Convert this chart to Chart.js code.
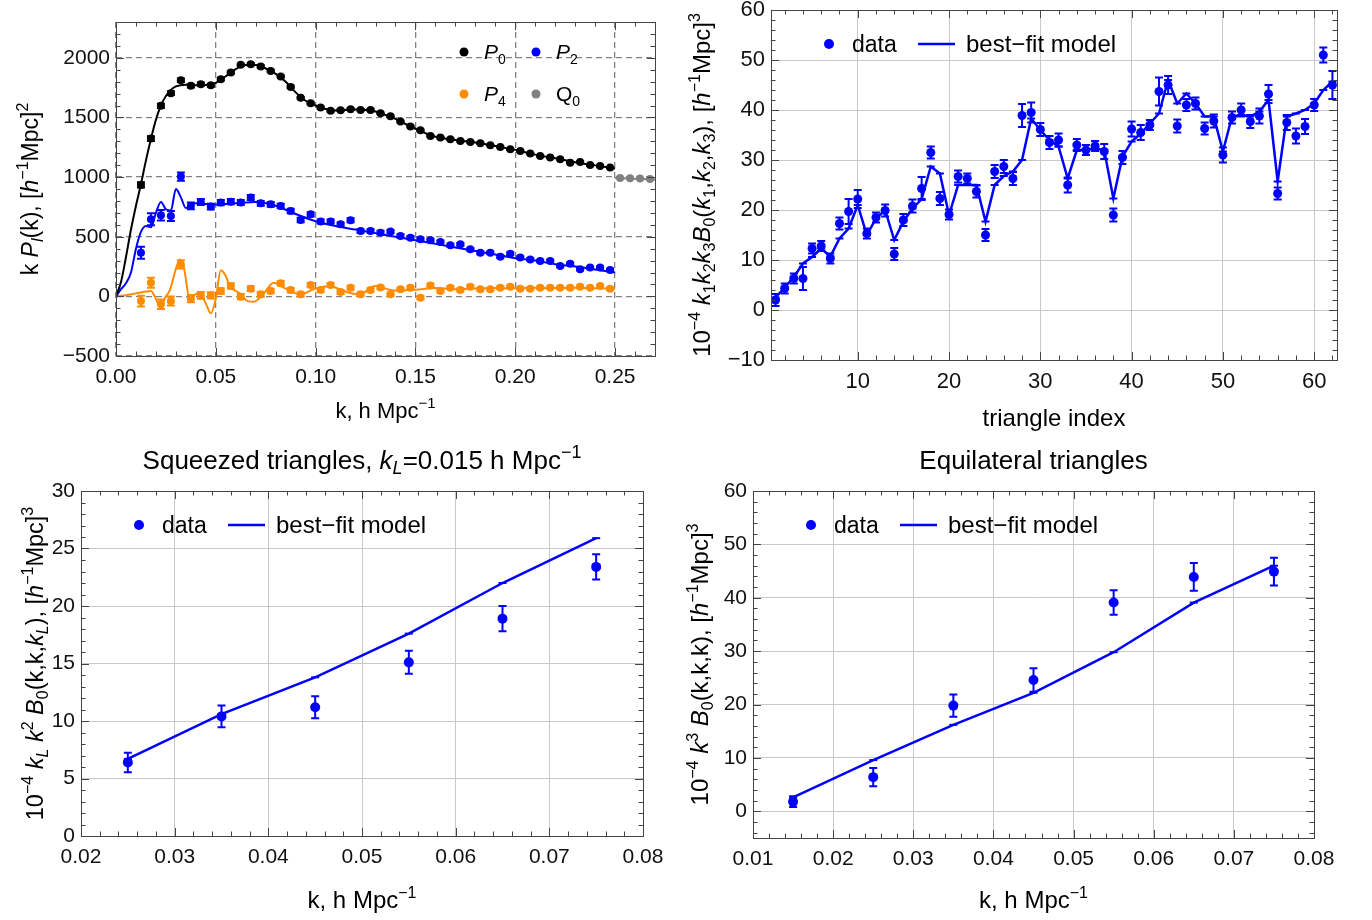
<!DOCTYPE html>
<html>
<head>
<meta charset="utf-8">
<script src="https://cdn.jsdelivr.net/npm/chart.js@4.4.1/dist/chart.umd.min.js"></script>
<style>
  body { margin: 0; background: #fff; width: 1372px; height: 920px; overflow: hidden; position: relative; }
  .panel { position: absolute; }
</style>
</head>
<body>
<div class="panel" style="left:0;top:0;width:686px;height:440px"><canvas id="cPk"></canvas></div>
<div class="panel" style="left:686px;top:0;width:686px;height:440px"><canvas id="cTri"></canvas></div>
<div class="panel" style="left:0;top:440px;width:686px;height:480px"><canvas id="cSq"></canvas></div>
<div class="panel" style="left:686px;top:440px;width:686px;height:480px"><canvas id="cEq"></canvas></div>
<script>
// ---- power spectrum multipoles (top left) ----
const kData = [0.0125,0.0175,0.0225,0.0275,0.0325,0.0375,0.0425,0.0475,0.0525,0.0575,0.0625,0.0675,0.0725,0.0775,0.0825,0.0875,0.0925,0.0975,0.1025,0.1075,0.1125,0.1175,0.1225,0.1275,0.1325,0.1375,0.1425,0.1475,0.1525,0.1575,0.1625,0.1675,0.1725,0.1775,0.1825,0.1875,0.1925,0.1975,0.2025,0.2075,0.2125,0.2175,0.2225,0.2275,0.2325,0.2375,0.2425,0.2475];
const p0Data = [934,1323,1597,1703,1812,1765,1779,1770,1821,1877,1941,1946,1927,1890,1843,1756,1664,1619,1583,1555,1561,1569,1563,1563,1535,1510,1466,1424,1393,1345,1331,1317,1303,1295,1284,1267,1253,1233,1219,1197,1177,1164,1150,1121,1127,1102,1093,1080];
const p0Err = [22,20,18,16,15,14,13,12,12,11,10,10,10,9,9,9,8,8,8,8,7,7,7,7,7,6,6,6,6,6,6,6,6,5,5,5,5,5,5,5,5,5,5,5,5,5,5,5];
const p2Data = [366,646,680,674,1004,758,791,753,786,794,786,828,780,772,758,716,640,688,627,627,604,638,548,548,534,543,506,492,478,470,456,428,436,394,366,366,333,358,325,310,296,296,254,274,227,241,241,221];
const p2Err = [50,50,45,42,35,28,26,24,22,22,21,21,20,20,19,19,18,18,17,17,16,16,15,15,15,14,14,14,13,13,13,12,12,12,12,11,11,11,11,10,10,10,10,10,10,10,10,10];
const p4Data = [-39,115,-67,-39,268,-19,8,8,45,87,-3,64,17,45,109,53,17,95,53,95,36,73,17,53,75,17,59,73,-11,92,45,73,53,81,59,59,73,81,64,64,73,73,73,73,81,73,87,64];
const p4Err = [45,42,40,38,35,30,28,26,24,22,22,20,20,19,19,18,18,17,17,16,16,15,15,15,14,14,14,13,13,13,12,12,12,12,11,11,11,11,10,10,10,10,10,10,10,10,10,10];
const q0K = [0.2525,0.2575,0.2625,0.2675];
const q0Data = [992,990,987,983];

const kModelP0 = [0,0.0025,0.005,0.0075,0.01,0.0125,0.015,0.0175,0.02,0.0225,0.025,0.0275,0.03,0.035,0.04,0.045,0.05,0.055,0.06,0.065,0.07,0.075,0.08,0.085,0.09,0.095,0.10,0.105,0.11,0.115,0.12,0.125,0.13,0.135,0.14,0.145,0.15,0.155,0.16,0.17,0.18,0.19,0.20,0.21,0.22,0.23,0.24,0.25];
const p0Model = [0,120,330,560,760,940,1140,1320,1480,1600,1680,1730,1760,1775,1770,1772,1790,1845,1905,1940,1940,1910,1865,1800,1710,1640,1600,1570,1558,1563,1566,1563,1550,1520,1488,1445,1405,1368,1338,1310,1290,1260,1228,1188,1157,1125,1098,1072];
const kModelP2 = [0,0.0025,0.005,0.0075,0.01,0.0125,0.015,0.0175,0.02,0.0225,0.025,0.0275,0.03,0.0325,0.035,0.04,0.05,0.06,0.07,0.08,0.09,0.10,0.11,0.12,0.13,0.14,0.15,0.16,0.17,0.18,0.19,0.20,0.21,0.22,0.23,0.24,0.25];
const p2Model = [0,60,110,200,400,540,590,580,700,790,730,720,900,830,740,780,770,780,790,760,690,630,590,560,530,500,470,440,410,380,350,320,300,270,250,225,200];
const kModelP4 = [0,0.005,0.01,0.015,0.0175,0.02,0.022,0.025,0.027,0.03,0.032,0.034,0.037,0.04,0.042,0.045,0.0475,0.05,0.0525,0.055,0.057,0.062,0.066,0.069,0.074,0.079,0.084,0.0925,0.099,0.107,0.114,0.122,0.13,0.139,0.15,0.16,0.17,0.18,0.19,0.20,0.21,0.22,0.23,0.24,0.25];
const p4Model = [0,10,25,40,45,-20,-90,0,53,230,308,240,-25,20,25,-60,-142,-20,218,170,87,25,-40,-45,25,115,73,17,59,87,45,17,87,50,55,70,60,65,70,68,72,70,72,68,65];
const q0ModelK = [0.25,0.27];
const q0Model = [993,980];
const pkXTicks = [0,0.05,0.10,0.15,0.20,0.25];
const pkYTicks = [-500,0,500,1000,1500,2000];

// ---- all triangles (top right) ----
const triIndex = [1,2,3,4,5,6,7,8,9,10,11,12,13,14,15,16,17,18,19,20,21,22,23,24,25,26,27,28,29,30,31,32,33,34,35,36,37,38,39,40,41,42,43,44,45,46,47,48,49,50,51,52,53,54,55,56,57,58,59,60,61,62];
const triData = [2.0,4.3,6.3,6.3,12.3,12.8,10.3,17.3,19.7,22.2,15.3,18.5,19.9,11.2,18.0,20.8,24.3,31.5,22.3,19.1,26.7,26.3,23.7,15.0,27.7,28.7,26.3,38.9,39.5,36.1,33.5,34.0,25.0,33.0,32.0,32.8,31.7,19.0,30.5,36.2,35.5,37.0,43.7,45.0,36.8,41.0,41.3,36.3,37.8,31.0,38.5,40.0,37.7,38.8,43.2,23.3,37.5,34.8,36.7,41.0,51.0,45.0];
const triErr = [1.2,1.0,1.0,2.3,1.0,1.0,1.0,1.2,2.5,1.8,1.0,1.0,1.2,1.2,1.2,1.3,2.3,1.2,1.3,1.0,1.2,1.0,1.2,1.2,1.3,1.3,1.3,2.3,2.0,1.3,1.3,1.3,1.5,1.2,1.0,1.0,1.5,1.3,1.3,1.5,1.5,1.0,2.8,1.8,1.3,1.2,1.2,1.2,1.3,1.5,1.2,1.3,1.3,1.5,1.8,1.2,1.5,1.5,1.5,1.2,1.5,2.8];
const triModel = [2.5,4.5,6.6,9.3,10.6,12.3,10.7,14.3,16.3,21.0,15.0,18.3,20.0,14.0,17.7,20.3,22.2,28.7,27.3,19.0,25.0,25.0,25.0,17.7,25.0,26.8,27.7,30.0,38.3,36.0,34.0,32.7,26.3,32.0,32.0,32.3,32.0,22.3,30.7,33.7,35.3,37.3,39.3,46.0,41.3,43.3,41.3,38.7,38.7,31.7,38.7,39.0,38.7,39.7,42.0,25.7,38.7,39.3,40.0,41.3,44.0,45.7];
const triXTicks = [10,20,30,40,50,60];
const triYTicks = [-10,0,10,20,30,40,50,60];

// ---- squeezed triangles (bottom left) ----
const kSq = [0.025,0.035,0.045,0.055,0.065,0.075];
const sqData = [6.4,10.4,11.2,15.1,18.9,23.4];
const sqErr = [0.85,0.95,0.95,1.0,1.1,1.1];
const sqModel = [6.7,10.6,13.8,17.6,22.0,25.9];
const sqXTicks = [0.02,0.03,0.04,0.05,0.06,0.07,0.08];
const sqYTicks = [0,5,10,15,20,25,30];

// ---- equilateral triangles (bottom right) ----
const kEq = [0.015,0.025,0.035,0.045,0.055,0.065,0.075];
const eqData = [1.8,6.4,19.8,24.6,39.1,43.9,44.9];
const eqErr = [1.0,1.7,2.1,2.2,2.3,2.6,2.6];
const eqModel = [2.6,9.6,16.2,22.2,29.8,39.1,46.0];
const eqXTicks = [0.01,0.02,0.03,0.04,0.05,0.06,0.07,0.08];
const eqYTicks = [0,10,20,30,40,50,60];

const FONT = '"Liberation Sans", Arial, sans-serif';
const BLUE = 'rgb(0,0,255)';
const ORANGE = 'rgb(255,140,0)';
const GRAY = 'rgb(128,128,128)';
Chart.defaults.font.family = FONT;

const pts = (xs, ys) => xs.map((x, i) => ({ x: x, y: ys[i] }));
const minus = v => String(v).replace('-', '\u2212');

// draws mixed italic / sub / superscript text, centred on (x, y)
function drawRich(ctx, parts, x, y, size, opts = {}) {
  ctx.save();
  ctx.translate(x, y);
  if (opts.rotate) ctx.rotate(-Math.PI / 2);
  const fontOf = st => (st.includes('i') ? 'italic ' : '') +
    ((st.includes('u') || st.includes('d')) ? Math.round(size * 0.68) : size) + 'px ' + FONT;
  let total = 0;
  const widths = parts.map(([t, st]) => {
    ctx.font = fontOf(st);
    const w = ctx.measureText(t).width;
    total += w;
    return w;
  });
  let cx = opts.left ? 0 : -total / 2;
  ctx.textAlign = 'left';
  ctx.textBaseline = 'alphabetic';
  ctx.fillStyle = '#000';
  parts.forEach(([t, st], i) => {
    ctx.font = fontOf(st);
    let dy = size * 0.35;
    if (st.includes('u')) dy -= size * 0.42;
    if (st.includes('d')) dy += size * 0.2;
    ctx.fillText(t, cx, dy);
    cx += widths[i];
  });
  ctx.restore();
}

function frameTicks(ctx, sc, minor, major, a, horizontal) {
  const start = Math.ceil(sc.min / minor - 1e-9);
  const end = Math.floor(sc.max / minor + 1e-9);
  ctx.beginPath();
  for (let n = start; n <= end; n++) {
    const v = n * minor;
    const r = v / major;
    const len = Math.abs(r - Math.round(r)) < 1e-6 ? 8 : 4.5;
    const p = Math.round(sc.getPixelForValue(v)) + 0.5;
    if (horizontal) {
      ctx.moveTo(p, a.bottom); ctx.lineTo(p, a.bottom - len);
      ctx.moveTo(p, a.top); ctx.lineTo(p, a.top + len);
    } else {
      ctx.moveTo(a.left, p); ctx.lineTo(a.left + len, p);
      ctx.moveTo(a.right, p); ctx.lineTo(a.right - len, p);
    }
  }
  ctx.stroke();
}

function legendBlock(ctx, a) {
  const y = a.top + 34, x0 = a.left + 58;
  ctx.fillStyle = BLUE;
  ctx.beginPath(); ctx.arc(x0, y, 5, 0, Math.PI * 2); ctx.fill();
  drawRich(ctx, [['data', '']], x0 + 23, y, 23, { left: true });
  ctx.strokeStyle = BLUE; ctx.lineWidth = 2.5;
  ctx.beginPath(); ctx.moveTo(x0 + 89, y); ctx.lineTo(x0 + 126, y); ctx.stroke();
  drawRich(ctx, [['best\u2212fit model', '']], x0 + 137, y, 24, { left: true });
}

function makeChart(id, cfg) {
  const deco = {
    id: 'deco_' + id,
    afterDatasetsDraw(chart) {
      const ctx = chart.ctx, xs = chart.scales.x, ys = chart.scales.y;
      ctx.save();
      cfg.errs.forEach(e => {
        ctx.strokeStyle = e.color; ctx.lineWidth = 2;
        ctx.beginPath();
        e.xs.forEach((xv, i) => {
          const px = xs.getPixelForValue(xv);
          const y1 = ys.getPixelForValue(e.ys[i] + e.err[i]);
          const y2 = ys.getPixelForValue(e.ys[i] - e.err[i]);
          ctx.moveTo(px, y1); ctx.lineTo(px, y2);
          ctx.moveTo(px - 4, y1); ctx.lineTo(px + 4, y1);
          ctx.moveTo(px - 4, y2); ctx.lineTo(px + 4, y2);
        });
        ctx.stroke();
      });
      ctx.restore();
    },
    afterDraw(chart) {
      const ctx = chart.ctx, a = chart.chartArea;
      ctx.save();
      ctx.strokeStyle = '#444'; ctx.lineWidth = 1;
      frameTicks(ctx, chart.scales.x, cfg.minorX, cfg.majorX, a, true);
      frameTicks(ctx, chart.scales.y, cfg.minorY, cfg.majorY, a, false);
      ctx.strokeRect(Math.round(a.left) + 0.5, Math.round(a.top) + 0.5,
        Math.round(a.right - a.left), Math.round(a.bottom - a.top));
      cfg.texts(ctx, a, chart);
      ctx.restore();
    }
  };
  return new Chart(document.getElementById(id), {
    type: 'scatter',
    data: { datasets: cfg.datasets },
    options: {
      responsive: true,
      maintainAspectRatio: false,
      animation: false,
      layout: { padding: { top: cfg.pad[0], right: cfg.pad[1], left: 0, bottom: 0 } },
      plugins: { legend: { display: false }, tooltip: { enabled: false } },
      scales: {
        x: {
          type: 'linear', min: cfg.x[0], max: cfg.x[1],
          afterBuildTicks: s => { s.ticks = cfg.xticks.map(v => ({ value: v })); },
          afterFit: s => { s.height = cfg.xh; s.paddingLeft = 0; s.paddingRight = 0; },
          ticks: { autoSkip: false, maxRotation: 0,
            padding: 9, color: '#111', font: { size: cfg.font }, callback: cfg.xfmt },
          grid: { color: cfg.gridColor, lineWidth: cfg.gridWidth, drawTicks: false },
          border: { display: false, dash: cfg.dash }
        },
        y: {
          type: 'linear', min: cfg.y[0], max: cfg.y[1],
          afterBuildTicks: s => { s.ticks = cfg.yticks.map(v => ({ value: v })); },
          afterFit: s => { s.width = cfg.yw; s.paddingTop = 0; s.paddingBottom = 0; },
          ticks: { autoSkip: false,
            padding: 6, color: '#111', font: { size: cfg.font }, callback: minus },
          grid: { color: cfg.gridColor, lineWidth: cfg.gridWidth, drawTicks: false },
          border: { display: false, dash: cfg.dash }
        }
      }
    },
    plugins: [deco]
  });
}

const dots = (data, color, r) => ({ data: data, backgroundColor: color, borderWidth: 0, pointRadius: r, pointHoverRadius: r });
const curve = (data, color) => ({ data: data, showLine: true, borderColor: color, borderWidth: 2, pointRadius: 0, cubicInterpolationMode: 'monotone' });
const model = (data) => ({ data: data, showLine: true, borderColor: BLUE, borderWidth: 2.5, tension: 0,
  pointStyle: 'line', pointRadius: 4, pointBorderWidth: 2, pointBorderColor: BLUE });

// top left: multipoles
makeChart('cPk', {
  pad: [22, 31], yw: 116, xh: 84, font: 21,
  x: [0, 0.27], y: [-500, 2300], xticks: pkXTicks, yticks: pkYTicks,
  majorX: 0.05, minorX: 0.01, majorY: 500, minorY: 100,
  gridColor: 'rgb(130,130,130)', gridWidth: 1.3, dash: [6, 4],
  xfmt: v => v.toFixed(2),
  datasets: [
    dots(pts(kData, p0Data), '#000', 4),
    dots(pts(kData, p2Data), BLUE, 4),
    dots(pts(kData, p4Data), ORANGE, 4),
    dots(pts(q0K, q0Data), GRAY, 4),
    curve(pts(kModelP0, p0Model), '#000'),
    curve(pts(kModelP2, p2Model), BLUE),
    curve(pts(kModelP4, p4Model), ORANGE),
    curve(pts(q0ModelK, q0Model), GRAY)
  ],
  errs: [
    { xs: kData, ys: p0Data, err: p0Err, color: '#000' },
    { xs: kData, ys: p2Data, err: p2Err, color: BLUE },
    { xs: kData, ys: p4Data, err: p4Err, color: ORANGE }
  ],
  texts(ctx, a) {
    const cx = (a.left + a.right) / 2;
    drawRich(ctx, [['k, h Mpc', ''], ['\u22121', 'u']], cx, 410, 22);
    drawRich(ctx, [['k ', ''], ['P', 'i'], ['l', 'id'], ['(k), [', ''], ['h', 'i'], ['\u22121', 'u'], ['Mpc]', ''], ['2', 'u']],
      30, (a.top + a.bottom) / 2, 23, { rotate: true });
    const items = [['P', '0', '#000', 464, 52, 'i'], ['P', '2', BLUE, 536, 52, 'i'],
                   ['P', '4', ORANGE, 464, 94, 'i'], ['Q', '0', GRAY, 536, 94, '']];
    items.forEach(([s, sub, col, x, y, st]) => {
      ctx.fillStyle = col;
      ctx.beginPath(); ctx.arc(x, y, 4.5, 0, Math.PI * 2); ctx.fill();
      drawRich(ctx, [[s, st], [sub, 'd']], x + 20, y, 21, { left: true });
    });
  }
});

// top right: all triangles
makeChart('cTri', {
  pad: [10, 35], yw: 85, xh: 80, font: 22,
  x: [0.5, 62.5], y: [-10, 60], xticks: triXTicks, yticks: triYTicks,
  majorX: 10, minorX: 2, majorY: 10, minorY: 2,
  gridColor: 'rgb(200,200,200)', gridWidth: 1, dash: [],
  xfmt: v => v,
  datasets: [
    dots(pts(triIndex, triData), BLUE, 4.5),
    model(pts(triIndex, triModel))
  ],
  errs: [{ xs: triIndex, ys: triData, err: triErr, color: BLUE }],
  texts(ctx, a) {
    drawRich(ctx, [['triangle index', '']], (a.left + a.right) / 2, 418, 24);
    drawRich(ctx, [['10', ''], ['\u22124', 'u'], [' ', ''], ['k', 'i'], ['1', 'd'], ['k', 'i'], ['2', 'd'], ['k', 'i'], ['3', 'd'],
      ['B', 'i'], ['0', 'd'], ['(', ''], ['k', 'i'], ['1', 'd'], [',', ''], ['k', 'i'], ['2', 'd'], [',', ''], ['k', 'i'], ['3', 'd'],
      ['), [', ''], ['h', 'i'], ['\u22121', 'u'], ['Mpc]', ''], ['3', 'u']], 16, (a.top + a.bottom) / 2, 24, { rotate: true });
    legendBlock(ctx, a);
  }
});

// bottom left: squeezed
makeChart('cSq', {
  pad: [51, 43], yw: 81, xh: 84, font: 21,
  x: [0.02, 0.08], y: [0, 30], xticks: sqXTicks, yticks: sqYTicks,
  majorX: 0.01, minorX: 0.002, majorY: 5, minorY: 1,
  gridColor: 'rgb(200,200,200)', gridWidth: 1, dash: [],
  xfmt: v => v.toFixed(2),
  datasets: [
    dots(pts(kSq, sqData), BLUE, 5),
    model(pts(kSq, sqModel))
  ],
  errs: [{ xs: kSq, ys: sqData, err: sqErr, color: BLUE }],
  texts(ctx, a) {
    const cx = (a.left + a.right) / 2;
    drawRich(ctx, [['Squeezed triangles, ', ''], ['k', 'i'], ['L', 'id'], ['=0.015 h Mpc', ''], ['\u22121', 'u']], cx, 20, 26);
    drawRich(ctx, [['k, h Mpc', ''], ['\u22121', 'u']], cx, 460, 24);
    drawRich(ctx, [['10', ''], ['\u22124', 'u'], [' ', ''], ['k', 'i'], ['L', 'id'], [' ', ''], ['k', 'i'], ['2', 'u'], [' ', ''],
      ['B', 'i'], ['0', 'd'], ['(k,k,', ''], ['k', 'i'], ['L', 'id'], ['), [', ''], ['h', 'i'], ['\u22121', 'u'], ['Mpc]', ''], ['3', 'u']],
      35, (a.top + a.bottom) / 2, 23.5, { rotate: true });
    legendBlock(ctx, a);
  }
});

// bottom right: equilateral
makeChart('cEq', {
  pad: [51, 58], yw: 67, xh: 82, font: 21,
  x: [0.01, 0.08], y: [-5, 60], xticks: eqXTicks, yticks: eqYTicks,
  majorX: 0.01, minorX: 0.002, majorY: 10, minorY: 2,
  gridColor: 'rgb(200,200,200)', gridWidth: 1, dash: [],
  xfmt: v => v.toFixed(2),
  datasets: [
    dots(pts(kEq, eqData), BLUE, 5),
    model(pts(kEq, eqModel))
  ],
  errs: [{ xs: kEq, ys: eqData, err: eqErr, color: BLUE }],
  texts(ctx, a) {
    const cx = (a.left + a.right) / 2;
    drawRich(ctx, [['Equilateral triangles', '']], cx, 20, 26);
    drawRich(ctx, [['k, h Mpc', ''], ['\u22121', 'u']], cx, 460, 24);
    drawRich(ctx, [['10', ''], ['\u22124', 'u'], [' ', ''], ['k', 'i'], ['3', 'u'], [' ', ''], ['B', 'i'], ['0', 'd'],
      ['(k,k,k), [', ''], ['h', 'i'], ['\u22121', 'u'], ['Mpc]', ''], ['3', 'u']], 14, (a.top + a.bottom) / 2, 24, { rotate: true });
    legendBlock(ctx, a);
  }
});
</script>
</body>
</html>
